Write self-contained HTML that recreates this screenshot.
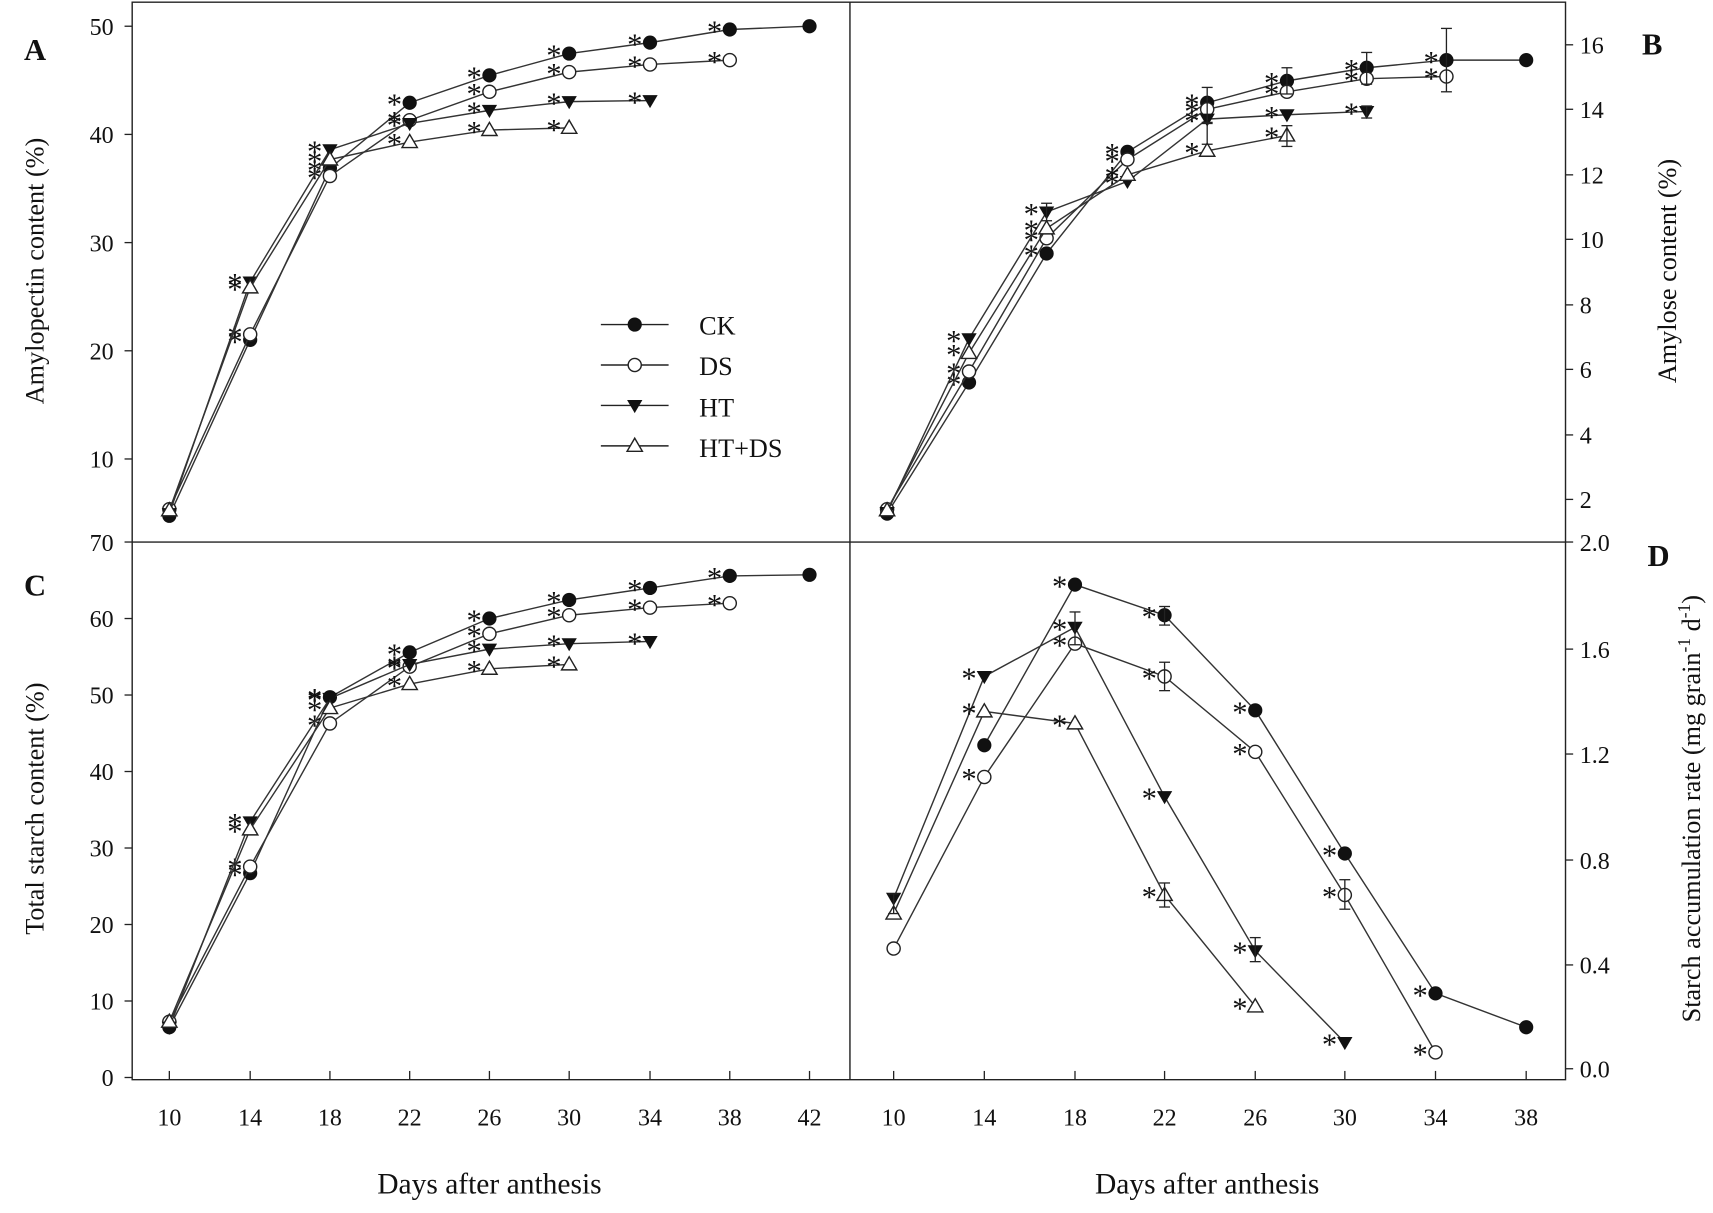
<!DOCTYPE html>
<html><head><meta charset="utf-8"><style>
html,body{margin:0;padding:0;background:#fff;}
svg{display:block;}
text{font-family:"Liberation Serif",serif;fill:#111;}
</style></head><body>
<svg id="s" width="1713" height="1213" viewBox="0 0 1568 1110" preserveAspectRatio="none" xmlns="http://www.w3.org/2000/svg">
<g stroke="#222" stroke-width="1.3" fill="none">
<path d="M121,2 H1433 V988 H121 Z"/>
<line x1="778" y1="2" x2="778" y2="988"/>
<line x1="121" y1="496" x2="1433" y2="496"/>
</g>
<g id="g"></g>
<text x="448" y="1092" font-size="27" text-anchor="middle">Days after anthesis</text>
<text x="1105" y="1092" font-size="27" text-anchor="middle">Days after anthesis</text>
<text transform="translate(40,248) rotate(-90)" font-size="24" text-anchor="middle">Amylopectin content (%)</text>
<text transform="translate(40,740) rotate(-90)" font-size="24" text-anchor="middle">Total starch content (%)</text>
<text transform="translate(1534,248) rotate(-90)" font-size="24" text-anchor="middle">Amylose content (%)</text>
<text transform="translate(1556,740) rotate(-90)" font-size="24" text-anchor="middle">Starch accumulation rate (mg grain<tspan font-size="16" dy="-9">-1</tspan><tspan dy="9"> d</tspan><tspan font-size="16" dy="-9">-1</tspan><tspan dy="9">)</tspan></text>
<text x="22" y="55" font-size="28" font-weight="bold">A</text>
<text x="1503" y="50" font-size="28" font-weight="bold">B</text>
<text x="22" y="545" font-size="28" font-weight="bold">C</text>
<text x="1508" y="518" font-size="28" font-weight="bold">D</text>
<g font-size="24">
<text x="640" y="306">CK</text><text x="640" y="343">DS</text><text x="640" y="381">HT</text><text x="640" y="418">HT+DS</text>
</g>
</svg>
<script>
const g=document.getElementById('g');let h='';
function L(a,b,c,d,w){h+=`<line x1="${a}" y1="${b}" x2="${c}" y2="${d}" stroke="#222" stroke-width="${w||1.2}"/>`;}
function T(x,y,t,a,fs){h+=`<text x="${x}" y="${y}" font-size="${fs||22}" text-anchor="${a||'middle'}">${t}</text>`;}
function M(type,x,y){
 if(type==0)h+=`<circle cx="${x}" cy="${y}" r="6" fill="#111" stroke="#111"/>`;
 else if(type==1)h+=`<circle cx="${x}" cy="${y}" r="6" fill="#fff" stroke="#222" stroke-width="1.3"/>`;
 else if(type==2)h+=`<path d="M${x-7},${y-5} L${x+7},${y-5} L${x},${y+7} Z" fill="#111"/>`;
 else h+=`<path d="M${x-7},${y+5} L${x+7},${y+5} L${x},${y-7} Z" fill="#fff" stroke="#222" stroke-width="1.3"/>`;}
[[24,'50'],[123,'40'],[222,'30'],[321,'20'],[420,'10']].forEach(([y,t])=>{L(114,y,121,y);T(104,y+8,t,'end');});
[[496,'70'],[566,'60'],[636,'50'],[706,'40'],[776,'30'],[846,'20'],[916,'10'],[986,'0']].forEach(([y,t])=>{L(114,y,121,y);T(104,y+8,t,'end');});
[[41,'16'],[100,'14'],[160,'12'],[219,'10'],[279,'8'],[338,'6'],[398,'4'],[457,'2']].forEach(([y,t])=>{L(1433,y,1440,y);T(1446,y+8,t,'start');});
[[496,'2.0'],[594,'1.6'],[690,'1.2'],[787,'0.8'],[883,'0.4'],[978,'0.0']].forEach(([y,t])=>{L(1433,y,1440,y);T(1446,y+8,t,'start');});
const xl=[155,229,302,375,448,521,595,668,741],xr=[818,901,984,1066,1149,1231,1314,1397];
[10,14,18,22,26,30,34,38,42].forEach((d,i)=>{L(xl[i],988,xl[i],980);T(xl[i],1030,d);});
[10,14,18,22,26,30,34,38].forEach((d,i)=>{L(xr[i],988,xr[i],980);T(xr[i],1030,d);});
const bx=[812,887,958,1032,1105,1178,1251,1324,1397];
const A=[[0,xl,[472,311,154,94,69,49,39,27,24]],[1,xl,[466,306,161,110,84,66,59,55]],[2,xl,[470,258,137,113,101,93,92]],[3,xl,[467,263,146,130,119,117]]];
const B=[[0,bx,[470,350,232,139,94,74,62,55,55]],[1,bx,[466,340,218,146,100,84,72,70]],[2,bx,[469,310,194,166,109,105,102]],[3,bx,[467,323,209,160,138,124]]];
const C=[[0,xl,[940,799,638,597,566,549,538,527,526]],[1,xl,[935,793,662,610,580,563,556,552]],[2,xl,[940,752,639,608,594,589,587]],[3,xl,[935,759,648,626,612,608]]];
const D=[[0,xr.slice(1),[682,535,563,650,781,909,940]],[1,xr,[868,711,589,619,688,819,963]],[2,xr,[822,619,574,729,870,954]],[3,xr,[836,651,662,819,921]]];
function ser(S){S.forEach(([t,xs,ys])=>{let p='';ys.forEach((y,i)=>p+=(i?'L':'M')+xs[i]+','+y);
 h+=`<path d="${p}" fill="none" stroke="#333" stroke-width="1.3"/>`;
 ys.forEach((y,i)=>{M(t,xs[i],y);if(i>0&&!(t==0&&i==ys.length-1))T(xs[i]-14,y+11,'*','middle',28);});});}
ser(A);ser(B);ser(C);ser(D);
[[1178,62,86],[1251,48,77],[1324,26,84],[1105,80,113],[1105,112,132],[958,186,202],[1251,97,108],[1178,115,134]].forEach(([x,a,b])=>{L(x,a,x,b);L(x-5,a,x+5,a);L(x-5,b,x+5,b);});
[[984,560,590],[1066,606,632],[1066,808,830],[1149,858,880],[1231,805,832],[1066,555,572],[818,818,836]].forEach(([x,a,b])=>{L(x,a,x,b);L(x-5,a,x+5,a);L(x-5,b,x+5,b);});
[[297,0],[334,1],[371,2],[408,3]].forEach(([y,t])=>{L(550,y,612,y,1.3);M(t,581,y);});
g.innerHTML=h;
</script>
</body></html>
